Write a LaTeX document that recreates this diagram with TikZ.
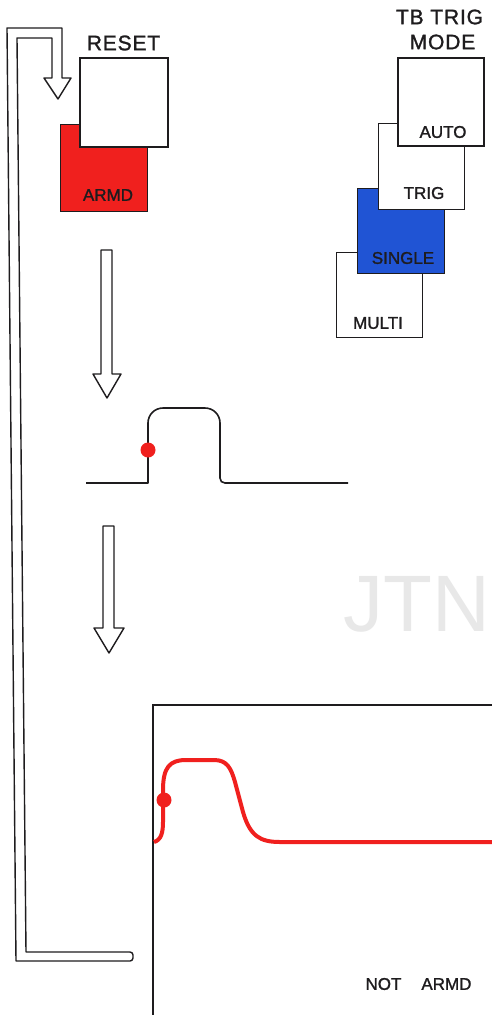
\documentclass[tikz,border=0pt]{standalone}
\usepackage{fontspec}
\setmainfont{Liberation Sans}
\newfontfamily\keyfont[BoldFont={Liberation Sans},BoldFeatures={FakeBold=1.3}]{Liberation Sans}
\newfontfamily\headfont[BoldFont={Liberation Sans},BoldFeatures={FakeBold=1.3,LetterSpace=4}]{Liberation Sans}
\definecolor{ink}{RGB}{30,28,30}
\definecolor{armred}{RGB}{240,32,30}
\definecolor{selblue}{RGB}{32,84,212}
\definecolor{wm}{RGB}{232,232,232}
\begin{document}
\begin{tikzpicture}[x=1pt,y=-1pt,
  thickbox/.style={draw=ink,line width=2pt,fill=white,rectangle,inner sep=0pt},
  thinbox/.style={draw=ink,line width=1pt,fill=white,rectangle,inner sep=0pt},
  keytext/.style={inner sep=0pt,text=ink,font=\keyfont\bfseries\fontsize{17}{17}\selectfont},
  headtext/.style={inner sep=0pt,text=ink,font=\headfont\bfseries\fontsize{21}{21}\selectfont},
  outline/.style={draw=ink,line width=1.4pt,line join=round,fill=white},
  wave/.style={draw=ink,line width=1.6pt,line join=round},
  redwave/.style={draw=armred,line width=4pt,line join=round,line cap=butt}]
\useasboundingbox (0,0) rectangle (492,1015);
\fill[white] (0,0) rectangle (492,1015);

% watermark
\node[inner sep=0pt,text=wm,font=\fontsize{80}{80}\selectfont] (jtn) at (416.5,604) {JTN};

% return path arrow
\draw[outline] (58,99) -- (71,78) -- (62,78) -- (62,28) -- (7,28) -- (16,961)
  [rounded corners=3pt] -- (133,961) -- (133,952) [sharp corners] -- (26,952) -- (17,38)
  -- (52,38) -- (52,78) -- (44,78) -- cycle;

% RESET button
\node[headtext] (resetlbl) at (123.5,43) {RESET};
\node[thinbox,fill=armred,minimum width=87pt,minimum height=87pt] (armd) at (103.5,167.5) {};
\node[thickbox,minimum width=88pt,minimum height=89pt] (reset) at (124,102.5) {};
\node[keytext] (armdlbl) at (108,195) {ARMD};

% TB TRIG MODE buttons
\node[headtext] (tbtrig) at (439.5,17) {TB TRIG};
\node[headtext] (mode) at (442.5,42) {MODE};
\node[thinbox,minimum width=86pt,minimum height=85pt] (multi) at (379,294.5) {};
\node[thinbox,fill=selblue,minimum width=87pt,minimum height=85pt] (single) at (400.5,230.5) {};
\node[thinbox,minimum width=86pt,minimum height=86pt] (trig) at (421,166) {};
\node[thickbox,minimum width=86pt,minimum height=88pt] (auto) at (441,102) {};
\node[keytext] (autolbl) at (443,132) {AUTO};
\node[keytext] (triglbl) at (424,193) {TRIG};
\node[keytext] (singlelbl) at (403,258) {SINGLE};
\node[keytext] (multilbl) at (378,323) {MULTI};

% down arrows
\draw[outline] (107,398) -- (121,374) -- (112,374) -- (112,250) -- (101,250) -- (101,374) -- (93,374) -- cycle;
\draw[outline] (109,653) -- (124,628) -- (114,628) -- (114,526) -- (103,526) -- (103,628) -- (94,628) -- cycle;

% trigger pulse
\draw[wave] (86,483) -- (148,483) -- (148,423) .. controls (148,414.7) and (154.7,408) .. (163,408)
  -- (205,408) .. controls (213.3,408) and (220,414.7) .. (220,423) -- (220,478)
  .. controls (220,481) and (222,483) .. (225,483) -- (348,483);
\fill[armred] (148,450) circle[radius=7.5pt];

% screen
\draw[draw=ink,line width=2pt] (153,1025) -- (153,705) -- (500,705);
\draw[redwave] (154,842) .. controls (161,840) and (163,833) .. (163,822) -- (163,790)
  .. controls (163,767) and (170,760) .. (186,760) -- (214,760)
  .. controls (227,760) and (231,768) .. (235,782) -- (243,812)
  .. controls (250,836) and (260,842) .. (280,842) -- (500,842);
\fill[armred] (164,800) circle[radius=7.5pt];
\node[keytext] (notarmd) at (418.5,984) {NOT\hspace{20pt}ARMD};
\end{tikzpicture}
\end{document}
